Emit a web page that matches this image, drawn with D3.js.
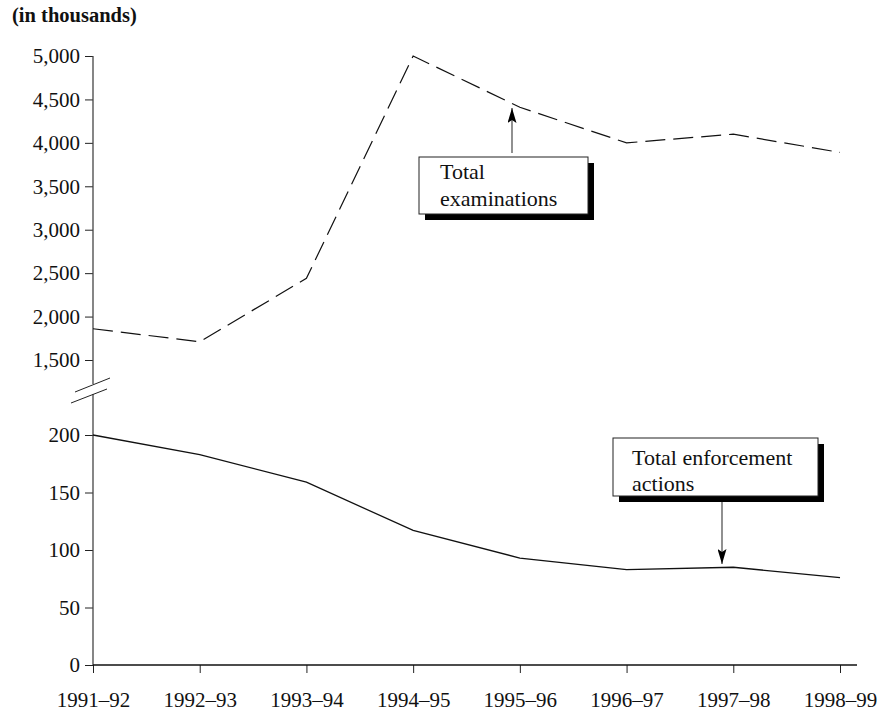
<!DOCTYPE html>
<html><head><meta charset="utf-8">
<script src="https://cdn.jsdelivr.net/npm/d3@7"></script>
<style>
body{margin:0;background:#fff;}
text{font-family:"Liberation Serif","Times New Roman",serif;fill:#111;}
</style></head>
<body><svg id="c" width="882" height="712"></svg>
<script>
const years = ["1991–92","1992–93","1993–94","1994–95","1995–96","1996–97","1997–98","1998–99"];
const examinations = [1860, 1710, 2440, 5000, 4410, 4000, 4100, 3890];
const enforcement = [200, 183, 159, 117, 93, 83, 85, 76];
const topTicks = [1500, 2000, 2500, 3000, 3500, 4000, 4500, 5000];
const bottomTicks = [0, 50, 100, 150, 200];

const svg = d3.select("#c");
const x = d3.scalePoint().domain(years).range([93, 840]);
const yTop = d3.scaleLinear().domain([1500, 5000]).range([360, 56]);
const yBot = d3.scaleLinear().domain([0, 200]).range([665, 435]);
const fmt = d3.format(",");

svg.append("text").attr("x", 12).attr("y", 22).attr("font-size", 20.5).attr("font-weight", "bold").text("(in thousands)");

function styleAxis(g){
  g.select(".domain").remove();
  g.selectAll(".tick line").attr("stroke", "#222");
  g.selectAll(".tick text").attr("font-size", 21).attr("font-family", '"Liberation Serif",serif').attr("fill", "#111");
}
svg.append("g").attr("transform", "translate(93,0)")
  .call(d3.axisLeft(yTop).tickValues(topTicks).tickFormat(fmt).tickSize(8).tickPadding(5))
  .call(styleAxis);
svg.append("g").attr("transform", "translate(93,0)")
  .call(d3.axisLeft(yBot).tickValues(bottomTicks).tickFormat(fmt).tickSize(8).tickPadding(5))
  .call(styleAxis);
svg.append("g").attr("transform", "translate(0,665)")
  .call(d3.axisBottom(x).tickSize(8).tickPadding(19))
  .call(styleAxis);

// axis lines
svg.append("line").attr("x1", 93).attr("x2", 93).attr("y1", yTop(5000)).attr("y2", 384).attr("stroke", "#444").attr("stroke-width", 1.3);
svg.append("line").attr("x1", 93).attr("x2", 93).attr("y1", 394).attr("y2", yBot(0)).attr("stroke", "#444").attr("stroke-width", 1.3);
svg.append("line").attr("x1", 93).attr("x2", 857).attr("y1", yBot(0)).attr("y2", yBot(0)).attr("stroke", "#111").attr("stroke-width", 1.3);
// break marks
svg.append("line").attr("x1", 75).attr("y1", 392).attr("x2", 110).attr("y2", 378).attr("stroke", "#222");
svg.append("line").attr("x1", 71).attr("y1", 403).attr("x2", 107).attr("y2", 389).attr("stroke", "#222");

// lines
const lineTop = d3.line().x((d, i) => x(years[i])).y(d => yTop(d));
const lineBot = d3.line().x((d, i) => x(years[i])).y(d => yBot(d));
svg.append("path").datum(examinations).attr("d", lineTop).attr("fill", "none").attr("stroke", "#111").attr("stroke-width", 1.2).attr("stroke-dasharray", "20,8");
svg.append("path").datum(enforcement).attr("d", lineBot).attr("fill", "none").attr("stroke", "#111").attr("stroke-width", 1.3);

// arrow marker
const defs = svg.append("defs");
defs.append("marker").attr("id", "ah").attr("viewBox", "0 0 10 10").attr("refX", 10).attr("refY", 5)
  .attr("markerWidth", 15).attr("markerHeight", 9).attr("preserveAspectRatio", "none")
  .attr("markerUnits", "userSpaceOnUse").attr("orient", "auto")
  .append("path").attr("d", "M0,0 L10,5 L0,10 L2,5 Z").attr("fill", "#000");

function callout(bx, by, bw, bh, lines, tx, baselines, ax, ay1, ay2){
  svg.append("rect").attr("x", bx + 6).attr("y", by + 6).attr("width", bw).attr("height", bh).attr("fill", "#000");
  svg.append("rect").attr("x", bx).attr("y", by).attr("width", bw).attr("height", bh).attr("fill", "#fff").attr("stroke", "#222").attr("stroke-width", 1);
  lines.forEach((t, i) => svg.append("text").attr("x", tx).attr("y", baselines[i]).attr("font-size", 22).text(t));
  svg.append("line").attr("x1", ax).attr("y1", ay1).attr("x2", ax).attr("y2", ay2).attr("stroke", "#555").attr("stroke-width", 1.3).attr("marker-end", "url(#ah)");
}
callout(419, 157, 169, 57, ["Total", "examinations"], 440, [179, 206], 512, 153, 108);
callout(613, 438, 205, 58, ["Total enforcement", "actions"], 632, [465, 491], 722, 502, 564);
</script></body></html>
